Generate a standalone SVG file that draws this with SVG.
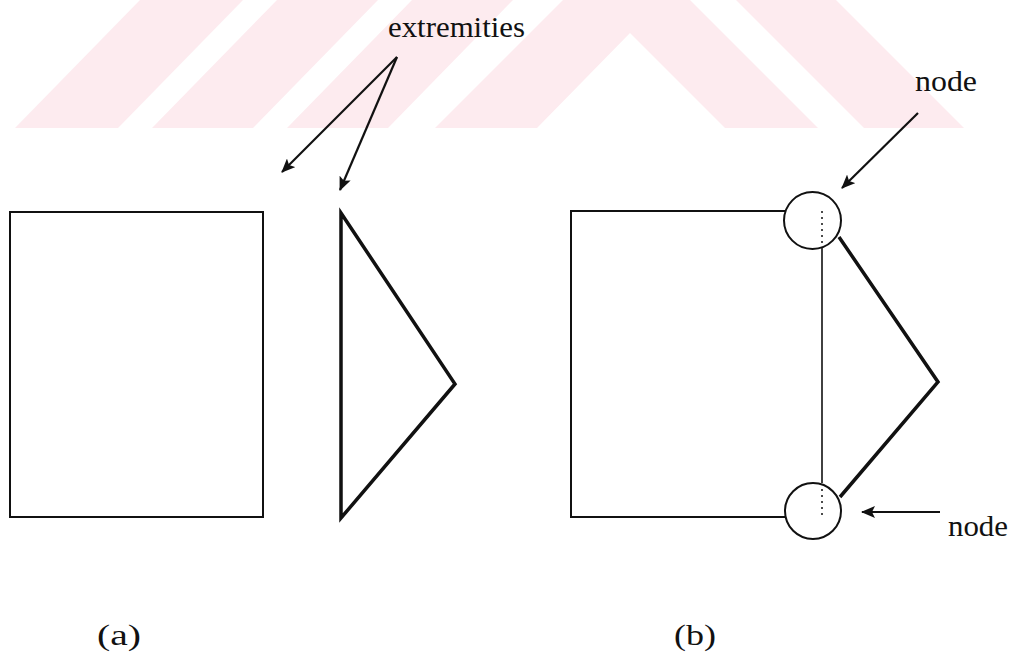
<svg xmlns="http://www.w3.org/2000/svg" width="1022" height="653" viewBox="0 0 1022 653">
  <style>
    .wm { fill: #fdebef; stroke: none; }
    .lbl { font-family: "Liberation Serif", "Times New Roman", serif; font-size: 29px; fill: #111; }
    .thin { fill: none; stroke: #111; stroke-width: 2; }
    .thick { fill: none; stroke: #111; stroke-width: 3.5; stroke-linejoin: miter; }
    .circ { fill: none; stroke: #111; stroke-width: 2; }
    .dot { fill: none; stroke: #111; stroke-width: 1.5; stroke-dasharray: 2 4; }
    .arr { fill: none; stroke: #111; stroke-width: 2.2; marker-end: url(#ah); }
  </style>
  <defs>
    <marker id="ah" markerUnits="userSpaceOnUse" markerWidth="14" markerHeight="12" viewBox="0 0 14 12" refX="13" refY="6" orient="auto">
      <path d="M0,0 L14,6 L0,12 L3,6 Z" fill="#111"/>
    </marker>
  </defs>
  <rect width="1022" height="653" fill="#fff"/>
  <g id="watermark">
    <polygon class="wm" points="15,128 118,128 243,0 140,0"/>
    <polygon class="wm" points="152,128 253,128 378,0 277,0"/>
    <polygon class="wm" points="287,128 388,128 513,0 412,0"/>
    <polygon class="wm" points="435,128 537,128 630,33 725,128 818,128 690,0 563,0"/>
    <polygon class="wm" points="864,128 964,128 836,0 736,0"/>
  </g>
  <g id="a-rectangle">
    <rect class="thin" x="10" y="212" width="253" height="305"/>
  </g>
  <g id="a-triangle">
    <polygon class="thick" points="341,213 455,384 341,518"/>
  </g>
  <g id="b-rectangle">
    <polyline class="thin" points="785,211 571,211 571,517 785,517"/>
    <line class="thin" x1="822" y1="249" x2="822" y2="483" style="stroke-width:1.6"/>
  </g>
  <g id="b-triangle">
    <polyline class="thick" points="839,237 938,382 840,497"/>
  </g>
  <g id="node-top">
    <circle class="circ" cx="812.5" cy="220.5" r="28.5"/>
    <line class="dot" x1="822" y1="211" x2="822" y2="249"/>
  </g>
  <g id="node-bottom">
    <circle class="circ" cx="813" cy="511" r="28"/>
    <line class="dot" x1="822" y1="489" x2="822" y2="517"/>
  </g>
  <g id="labels">
    <text class="lbl" x="388" y="37" textLength="137" lengthAdjust="spacingAndGlyphs">extremities</text>
    <text class="lbl" x="915" y="91" textLength="62" lengthAdjust="spacingAndGlyphs">node</text>
    <text class="lbl" x="948" y="536" textLength="60" lengthAdjust="spacingAndGlyphs">node</text>
    <text class="lbl" x="97" y="645" textLength="44" lengthAdjust="spacingAndGlyphs">(a)</text>
    <text class="lbl" x="674" y="645" textLength="42" lengthAdjust="spacingAndGlyphs">(b)</text>
  </g>
  <g id="connectors">
    <line class="arr" x1="397" y1="57" x2="282" y2="172"/>
    <line class="arr" x1="397" y1="57" x2="340" y2="190"/>
    <line class="arr" x1="918" y1="113" x2="842" y2="188"/>
    <line class="arr" x1="940" y1="512" x2="862" y2="512"/>
  </g>
</svg>
